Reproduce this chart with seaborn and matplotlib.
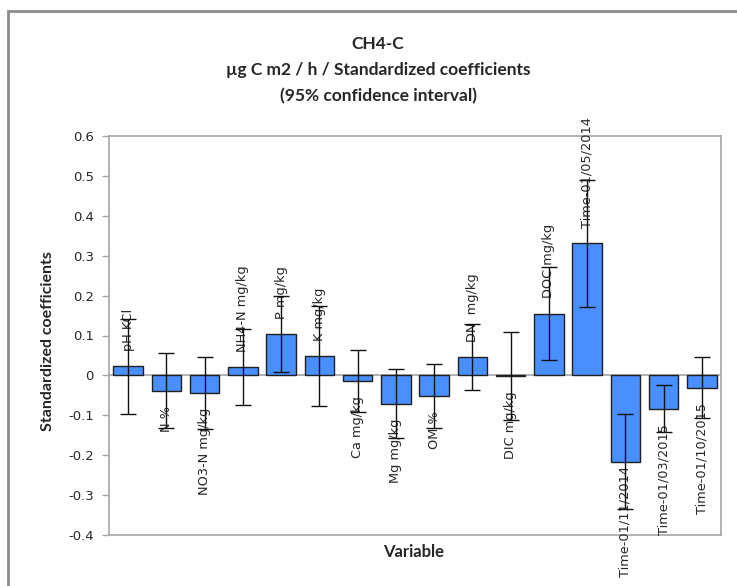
import numpy as np
import pandas as pd
import matplotlib
matplotlib.use("Agg")
import matplotlib.pyplot as plt
import seaborn as sns
from matplotlib.patches import Rectangle

# =========================
# Data
# =========================
variables = [
    "pH KCl", "N %", "NO3-N mg/kg", "NH4-N mg/kg", "P mg/kg", "K mg/kg",
    "Ca mg/kg", "Mg mg/kg", "OM %", "DN  mg/kg", "DIC mg/kg", "DOC mg/kg",
    "Time-01/05/2014", "Time-01/11/2014", "Time-01/03/2015", "Time-01/10/2015",
]
coef = [0.023, -0.038, -0.044, 0.021, 0.103, 0.048, -0.014, -0.071,
        -0.052, 0.046, -0.002, 0.155, 0.331, -0.216, -0.083, -0.031]
ci_low = [-0.096, -0.133, -0.134, -0.074, 0.008, -0.077, -0.091, -0.157,
          -0.132, -0.037, -0.112, 0.038, 0.172, -0.336, -0.143, -0.108]
ci_high = [0.142, 0.057, 0.046, 0.116, 0.198, 0.173, 0.063, 0.015,
           0.028, 0.129, 0.108, 0.272, 0.490, -0.096, -0.023, 0.046]

yticks = [-0.4, -0.3, -0.2, -0.1, 0, 0.1, 0.2, 0.3, 0.4, 0.5, 0.6]
ytick_labels = ["-0.4", "-0.3", "-0.2", "-0.1", "0", "0.1", "0.2", "0.3", "0.4", "0.5", "0.6"]

df = pd.DataFrame({"Variable": variables, "coef": coef,
                   "low": ci_low, "high": ci_high})

# =========================
# Style
# =========================
sns.set_style("white")
plt.rcParams["font.family"] = ["DejaVu Sans"]
grey = "#a6a6a6"

fig = plt.figure(figsize=(7.37, 5.86), dpi=100)
ax = fig.add_axes([109 / 737, 1 - 535 / 586, 612 / 737, 399 / 586])

# outer chart border (cropped on the right and bottom)
fig.patches.append(Rectangle((8 / 737, -0.1), 1.2, 1 - 11 / 586 + 0.1,
                             transform=fig.transFigure, fill=False,
                             edgecolor="#8c8c8c", linewidth=2))

# =========================
# Bars + error bars
# =========================
sns.barplot(data=df, x="Variable", y="coef", color="#4a8ffe", saturation=1,
            width=0.77, edgecolor="#1f1f1f", linewidth=1, errorbar=None,
            ax=ax, zorder=2)

x = np.arange(len(df))
yerr = [df["coef"] - df["low"], df["high"] - df["coef"]]
ax.errorbar(x, df["coef"], yerr=yerr, fmt="none", ecolor="#111111",
            elinewidth=1, capsize=6, capthick=1, zorder=5)

# labels next to each bar end
for i, row in df.iterrows():
    if row["coef"] >= 0:
        ax.annotate(row["Variable"], (i, row["coef"]), xytext=(0, 11),
                    textcoords="offset points", rotation=90,
                    ha="center", va="bottom", fontsize=9.3, zorder=4)
    else:
        # the longest negative bar has its label tucked close (as in the original)
        gap = 3 if row["coef"] < -0.2 else 11
        ax.annotate(row["Variable"], (i, row["coef"]), xytext=(0, -gap),
                    textcoords="offset points", rotation=90,
                    ha="center", va="top", fontsize=9.3, zorder=4,
                    annotation_clip=False)

ax.axhline(0, color=grey, linewidth=1.2, zorder=1)

# =========================
# Axes
# =========================
ax.set_xlim(-0.5, len(df) - 0.5)
ax.set_ylim(-0.4, 0.6)
ax.set_yticks(yticks)
ax.set_yticklabels(ytick_labels, fontsize=9.5)
ax.set_xticks([])
ax.tick_params(axis="y", left=True, length=5, width=1, color=grey, pad=6)
for s in ax.spines.values():
    s.set_color(grey)
    s.set_linewidth(1.2)

ax.set_xlabel("")
ax.set_ylabel("")
fig.text(414 / 737, 1 - 552 / 586, "Variable", family="Lato", weight="bold",
         fontsize=12, ha="center", va="center")
fig.text(48 / 737, 1 - 341 / 586, "Standardized coefficients", family="Lato",
         weight="bold", fontsize=11.5, rotation=90, ha="center", va="center")

title_lines = ["CH4-C", "µg C m2 / h / Standardized coefficients",
               "(95% confidence interval)"]
for k, line in enumerate(title_lines):
    fig.text(378 / 737, 1 - (44 + 26 * k) / 586, line, family="Lato",
             weight="bold", fontsize=12.5, ha="center", va="center")

fig.savefig("out.png", dpi=100)
